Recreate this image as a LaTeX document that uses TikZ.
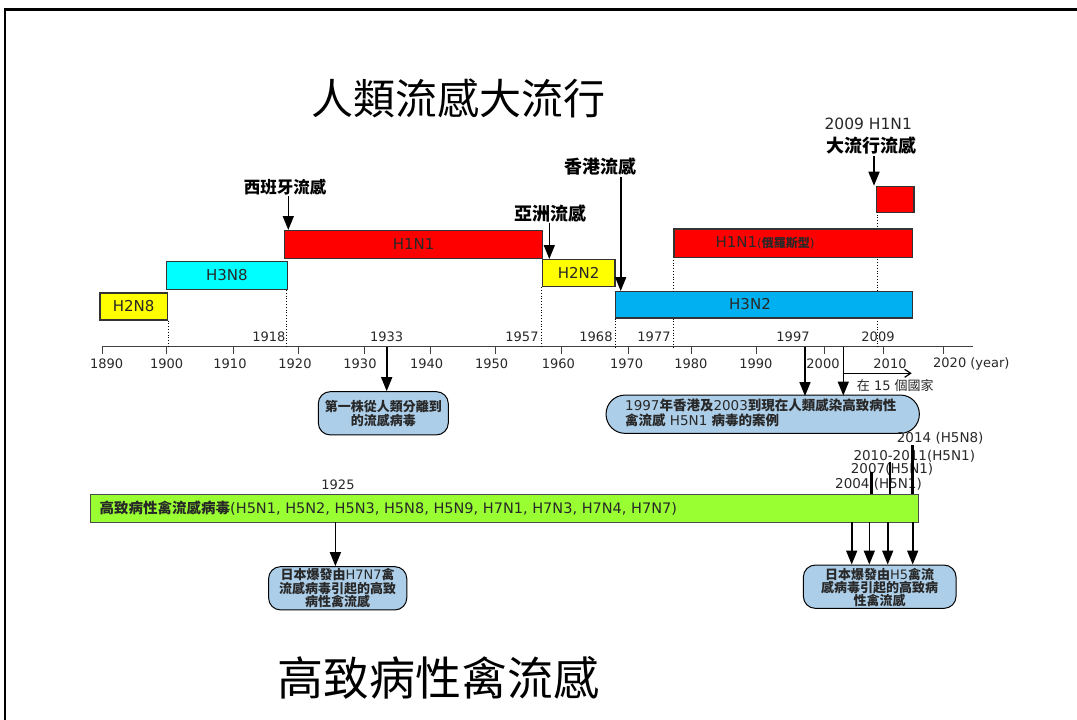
\documentclass[tikz,border=0pt]{standalone}
\usepackage{fontspec}
\setmainfont{DejaVu Sans}
\newfontfamily\cjk{Noto Sans CJK TC}
\usetikzlibrary{arrows.meta}
\newcommand{\zhb}[1]{{\cjk\bfseries #1}}
\definecolor{cblue}{RGB}{173,206,232}
\definecolor{hblue}{RGB}{0,176,240}
\definecolor{hcyan}{RGB}{0,255,255}
\definecolor{hyellow}{RGB}{255,255,0}
\definecolor{hred}{RGB}{255,0,0}
\definecolor{lime}{RGB}{153,255,51}
\definecolor{txtgray}{RGB}{40,40,40}
\tikzset{
  fbox/.style={draw=black!80, line width=1.2pt, anchor=north west, inner sep=0pt, text=txtgray, font=\fontsize{15}{17}\selectfont},
  dotln/.style={dotted, line width=0.8pt},
  barrow/.style={line width=1.6pt, -{Triangle[length=14pt,width=11pt]}},
  yrlbl/.style={font=\fontsize{13}{15}\selectfont, text=txtgray, inner sep=0pt},
  zhlbl/.style={font=\cjk\bfseries\fontsize{18}{20}\selectfont, inner sep=1pt},
  callout/.style={draw=black, line width=1pt, fill=cblue, rounded corners=12pt, inner sep=0pt},
  cotext/.style={font=\fontsize{13}{12.4}\selectfont, text=txtgray, inner sep=0pt, align=center},
}
\begin{document}
\begin{tikzpicture}[x=1pt,y=-1pt]
\useasboundingbox (0,0) rectangle (1077,720);
\fill[white] (0,0) rectangle (1077,720);
% frame
\draw[line width=3pt] (4,9) -- (1077,9);
\draw[line width=2pt] (5,8) -- (5,720);

% titles
\node[font=\cjk\fontsize{42}{46}\selectfont, inner sep=0pt] (title1) at (458,98) {人類流感大流行};
\node[font=\cjk\fontsize{46}{50}\selectfont, inner sep=0pt] (title2) at (438,678) {高致病性禽流感};

% axis
\coordinate (axisL) at (101.7,346.7);
\coordinate (axisR) at (973,346.7);
\draw[line width=1.2pt, black!75] (axisL) -- (axisR);
\foreach \tx in {102.7,166.7,233.3,298.3,364,430,495,561.7,628.3,691,756.7,824.3,883.3,943.3}
  \draw[line width=1pt, black!75] (\tx,346.7) -- (\tx,353.5);
\foreach \yr/\lx in {1890/106.7,1900/166.7,1910/230,1920/295,1930/360,1940/426.7,1950/491.7,1960/558.3,1970/626.7,1980/690.8,1990/755.8,2000/823,2010/890}
  \node[yrlbl] (yr\yr) at (\lx,363.5) {\yr};
\node[yrlbl, anchor=west] (yr2020) at (933,363.5) {2020 (year)};

% event year labels above axis
\foreach \yr/\lx in {1918/268.8,1933/386.7,1957/522,1968/596,1977/654,1997/793,2009/878}
  \node[yrlbl] (ev\yr) at (\lx,336.5) {\yr};

% boxes
\node[fbox, fill=hyellow, minimum width=67.4pt, minimum height=27pt] (h2n8) at (99.3,292.3) {H2N8};
\node[fbox, fill=hcyan, minimum width=120.7pt, minimum height=27.7pt] (h3n8) at (166,261) {H3N8};
\node[fbox, fill=hyellow, minimum width=72.6pt, minimum height=27pt] (h2n2) at (541.7,259) {H2N2};

% dotted lines (behind the later boxes)
\draw[dotln] (h2n8.south east) -- (h2n8.south east |- axisL);
\draw[dotln] ([xshift=-1.5pt]h3n8.south east) -- ([xshift=-1.5pt]h3n8.south east |- axisL);
\draw[dotln] (h2n2.south west) -- (h2n2.south west |- axisL);
\coordinate (d1977) at (673.3,257);
\coordinate (d2009) at (877,211.7);
\draw[dotln] (d1977) -- (d1977 |- axisL);
\draw[dotln] (d2009) -- (d2009 |- axisL);

\node[fbox, fill=hred, minimum width=258pt, minimum height=27.7pt] (h1n1a) at (284,230) {H1N1};
\node[fbox, fill=hblue, minimum width=296.7pt, minimum height=26.3pt] (h3n2) at (615,291) {};
\node[inner sep=0pt, text=txtgray, font=\fontsize{15}{17}\selectfont] (h3n2lbl) at (750,304.5) {H3N2};
\draw[dotln] (h3n2.south west) -- (h3n2.south west |- axisL);
\node[fbox, fill=hred, minimum width=238.4pt, minimum height=28.7pt] (h1n1b) at (673.3,228.3) {};
\node[inner sep=0pt, text=txtgray, anchor=center] (h1n1blbl) at (765,242.8) {\fontsize{15}{17}\selectfont H1N1{\fontsize{12}{14}\selectfont(\zhb{俄羅斯型})}};
\node[fbox, fill=hred, minimum width=37.3pt, minimum height=26pt] (h1n1c) at (876,185.7) {};

% pandemic labels and arrows
\node[zhlbl, font=\cjk\bfseries\fontsize{16.5}{18}\selectfont] (spain) at (285,187) {西班牙流感};
\draw[barrow] ([xshift=3.3pt]spain.south) -- ([xshift=3.3pt]spain.south |- h1n1a.north);
\node[zhlbl] (asia) at (550,213.3) {亞洲流感};
\draw[barrow] ([xshift=-0.7pt]asia.south) -- ([xshift=-0.7pt]asia.south |- h2n2.north);
\node[zhlbl] (hk) at (600,166.7) {香港流感};
\draw[barrow] ([xshift=20.7pt]hk.south) -- ([xshift=20.7pt]hk.south |- h3n2.north);
\node[inner sep=0pt, text=txtgray, font=\fontsize{15.5}{17}\selectfont] (p2009a) at (868.3,124) {2009 H1N1};
\node[zhlbl] (p2009b) at (871.7,146) {大流行流感};
\draw[barrow] ([xshift=2.3pt]p2009b.south) -- ([xshift=2.3pt]p2009b.south |- h1n1c.north);

% callouts below axis
\node[callout, minimum width=130pt, minimum height=43.3pt] (cb1) at (383.3,413.3) {};
\node[cotext] (cb1t) at (cb1.center) {\zhb{第一株從人類分離到}\\\zhb{的流感病毒}};
\coordinate (a1933) at (386.7,346.7);
\draw[barrow] (a1933) -- (a1933 |- cb1.north);

\node[callout, rounded corners=19pt, minimum width=313.3pt, minimum height=38.3pt] (cb2) at (762.7,414.2) {};
\node[cotext, anchor=west, align=left, font=\fontsize{13.5}{15}\selectfont] (cb2t) at (625,412.8) {1997\zhb{年香港及}2003\zhb{到現在人類感染高致病性}\\\zhb{禽流感} H5N1 \zhb{病毒的案例}};
\coordinate (a1997) at (805,346.7);
\coordinate (a2003) at (843.3,346.7);
\draw[barrow] (a1997) -- ([yshift=-1.5pt]a1997 |- cb2.north);
\draw[barrow] (a2003) -- ([yshift=-1pt]a2003 |- cb2.north);
\coordinate (c15a) at (843.3,373.3);
\coordinate (c15b) at (911.7,373.3);
\draw[line width=1.2pt, -{Straight Barb[length=6pt,width=8pt]}] (c15a) -- (c15b);
\node[inner sep=0pt, anchor=west, text=txtgray, font=\fontsize{13}{15}\selectfont] (c15) at (856.7,386) {{\cjk 在} 15 {\cjk 個國家}};

% HPAI bar
\node[draw=black!70, line width=0.8pt, fill=lime, anchor=north west, inner sep=0pt, minimum width=828.3pt, minimum height=28.3pt] (hpai) at (90,494) {};
\node[inner sep=0pt, anchor=west, text=txtgray, font=\fontsize{14.5}{16}\selectfont] (hpait) at (99.5,508) {\zhb{高致病性禽流感病毒}(H5N1, H5N2, H5N3, H5N8, H5N9, H7N1, H7N3, H7N4, H7N7)};

% 1925
\node[yrlbl] (y1925) at (338,485) {1925};
\node[callout, minimum width=138.2pt, minimum height=43.3pt] (cb3) at (337.7,588.3) {};
\node[cotext, font=\fontsize{13}{11.9}\selectfont] (cb3t) at (cb3.center) {\zhb{日本爆發由}H7N7\zhb{禽}\\\zhb{流感病毒引起的高致}\\\zhb{病性禽流感}};
\coordinate (a1925) at (335.4,522.3);
\draw[barrow] (a1925) -- (a1925 |- cb3.north);

% H5 outbreaks
\node[yrlbl, anchor=west, font=\fontsize{13.5}{15}\selectfont] (l2014) at (896.7,438.3) {2014 (H5N8)};
\node[yrlbl, anchor=west, font=\fontsize{13.5}{15}\selectfont] (l2010) at (853.3,456) {2010-2011(H5N1)};
\node[yrlbl, anchor=west, font=\fontsize{13.5}{15}\selectfont] (l2007) at (850.7,469.3) {2007(H5N1)};
\node[yrlbl, anchor=west, font=\fontsize{13.5}{15}\selectfont] (l2004) at (835,484) {2004 (H5N1)};
\coordinate (t1) at (871.7,471.7);
\coordinate (t2) at (890,461.7);
\coordinate (t3) at (912.3,445);
\foreach \t in {t1,t2,t3}
  \draw[line width=2.8pt] (\t) -- (\t |- hpai.north);

\node[callout, minimum width=152.7pt, minimum height=43.3pt] (cb4) at (879.7,586.7) {};
\node[cotext, font=\fontsize{13}{12.6}\selectfont] (cb4t) at ([yshift=-1pt]cb4.center) {\zhb{日本爆發由}H5\zhb{禽流}\\\zhb{感病毒引起的高致病}\\\zhb{性禽流感}};
\foreach \ax [count=\i] in {851.7,869.3,887.7,912.7}
  \coordinate (b\i) at (\ax,522.3);
\foreach \i in {1,2,3,4}
  \draw[barrow] (b\i) -- (b\i |- cb4.north);
\end{tikzpicture}
\end{document}
